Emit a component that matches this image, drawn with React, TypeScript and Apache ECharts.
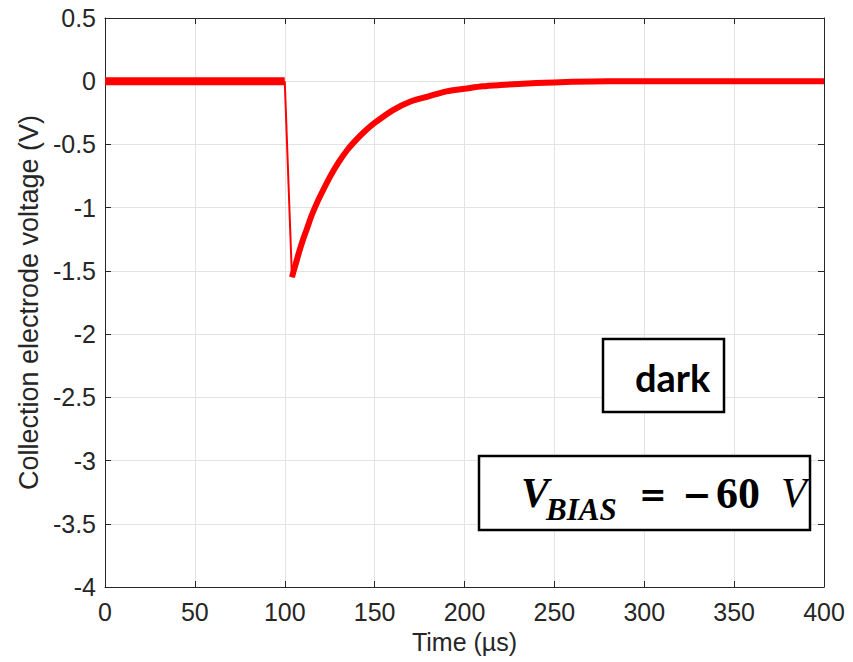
import React, { useEffect, useRef } from "react";
import * as echarts from "echarts";

// Time (µs) and voltage (V)
const baselineT = [0, 20, 40, 60, 80, 100];
const baselineV = [0, 0, 0, 0, 0, 0];
const dropT = [100, 104];
const dropV = [0, -1.55];
const decayT = [104, 106, 108, 110, 112, 115, 118, 120, 125, 130, 135, 140, 145, 150, 160, 170, 180, 190, 200, 210, 220, 240, 260, 280, 300, 350, 400];
const decayV = [-1.55, -1.45, -1.35, -1.26, -1.18, -1.06, -0.96, -0.9, -0.76, -0.64, -0.54, -0.46, -0.39, -0.33, -0.23, -0.16, -0.12, -0.08, -0.06, -0.04, -0.03, -0.015, -0.005, 0, 0, 0, 0];

const xTicks = { min: 0, max: 400, interval: 50 };
const yTicks = { min: -4, max: 0.5, interval: 0.5 };

const xLabel = "Time (µs)";
const yLabel = "Collection electrode voltage (V)";
const boxLabel = "dark";

const zip = (a: number[], b: number[]) => a.map((t, i) => [t, b[i]]);

export default function App() {
  const ref = useRef<HTMLDivElement>(null);
  useEffect(() => {
    if (!ref.current) return;
    const chart = echarts.init(ref.current, undefined, { renderer: "svg" });
    const axisColor = "#262626";
    const font = "'Liberation Sans', Arial, Helvetica, sans-serif";
    const serif = "'Liberation Serif', 'Times New Roman', serif";
    const mathSym = "'DejaVu Serif', serif";
    const tick = { show: true, inside: true, length: 6, lineStyle: { color: axisColor } };
    chart.setOption({
      animation: false,
      grid: { left: 105, top: 18, right: 29, bottom: 75, containLabel: false },
      xAxis: [
        {
          type: "value", ...xTicks,
          name: xLabel, nameLocation: "middle", nameGap: 42,
          nameTextStyle: { fontFamily: font, fontSize: 25, color: axisColor },
          axisLine: { show: true, onZero: false, lineStyle: { color: axisColor, width: 1 } },
          axisTick: tick,
          axisLabel: { fontFamily: font, fontSize: 25, color: axisColor, margin: 12 },
          splitLine: { show: true, lineStyle: { color: "#e3e3e3", width: 1 } },
        },
        {
          type: "value", position: "top", ...xTicks,
          axisLine: { show: true, onZero: false, lineStyle: { color: axisColor, width: 1 } },
          axisTick: tick, axisLabel: { show: false }, splitLine: { show: false },
        },
      ],
      yAxis: [
        {
          type: "value", ...yTicks,
          name: yLabel, nameLocation: "middle", nameGap: 62, nameRotate: 90,
          nameTextStyle: { fontFamily: font, fontSize: 27, color: axisColor },
          axisLine: { show: true, onZero: false, lineStyle: { color: axisColor, width: 1 } },
          axisTick: tick,
          axisLabel: { fontFamily: font, fontSize: 25, color: axisColor, margin: 9 },
          splitLine: { show: true, lineStyle: { color: "#e3e3e3", width: 1 } },
        },
        {
          type: "value", position: "right", ...yTicks,
          axisLine: { show: true, onZero: false, lineStyle: { color: axisColor, width: 1 } },
          axisTick: tick, axisLabel: { show: false }, splitLine: { show: false },
        },
      ],
      series: [
        { type: "line", data: zip(baselineT, baselineV), showSymbol: false, lineStyle: { color: "#ff0000", width: 8 } },
        { type: "line", data: zip(dropT, dropV), showSymbol: false, lineStyle: { color: "#ff0000", width: 2 } },
        { type: "line", data: zip(decayT, decayV), showSymbol: false, smooth: 0.3, lineStyle: { color: "#ff0000", width: 6, cap: "butt" } },
      ],
      graphic: [
        { type: "rect", shape: { x: 603, y: 339, width: 121, height: 73 }, style: { fill: "#fff", stroke: "#000", lineWidth: 2.5 }, z: 100 },
        { type: "text", x: 635, y: 377, z: 101, style: { text: boxLabel, font: "bold 38px Lato, 'Noto Sans', sans-serif", fill: "#000", textAlign: "left", textVerticalAlign: "middle" } },
        { type: "rect", shape: { x: 479, y: 456, width: 331, height: 74 }, style: { fill: "#fff", stroke: "#000", lineWidth: 2.5 }, z: 100 },
        { type: "text", x: 521, y: 493, z: 101, style: { text: "V", font: `italic bold 42px ${serif}`, fill: "#000", textAlign: "left", textVerticalAlign: "middle" } },
        { type: "text", x: 546, y: 509, z: 101, style: { text: "BIAS", font: `italic bold 31px ${serif}`, fill: "#000", textAlign: "left", textVerticalAlign: "middle" } },
        { type: "text", x: 639, y: 494, z: 101, style: { text: "=", font: `bold 33px ${mathSym}`, fill: "#000", textAlign: "left", textVerticalAlign: "middle" } },
        { type: "text", x: 682, y: 494, z: 101, style: { text: "−", font: `bold 35px ${mathSym}`, fill: "#000", textAlign: "left", textVerticalAlign: "middle" } },
        { type: "text", x: 716, y: 493, z: 101, style: { text: "60", font: `bold 44px ${serif}`, fill: "#000", textAlign: "left", textVerticalAlign: "middle" } },
        { type: "text", x: 781, y: 493, z: 101, style: { text: "V", font: `italic 42px ${serif}`, fill: "#000", textAlign: "left", textVerticalAlign: "middle" } },
      ],
    });
    return () => chart.dispose();
  }, []);
  return <div ref={ref} style={{ width: 853, height: 662, position: "absolute", left: 0, top: 0, background: "#fff" }} />;
}
